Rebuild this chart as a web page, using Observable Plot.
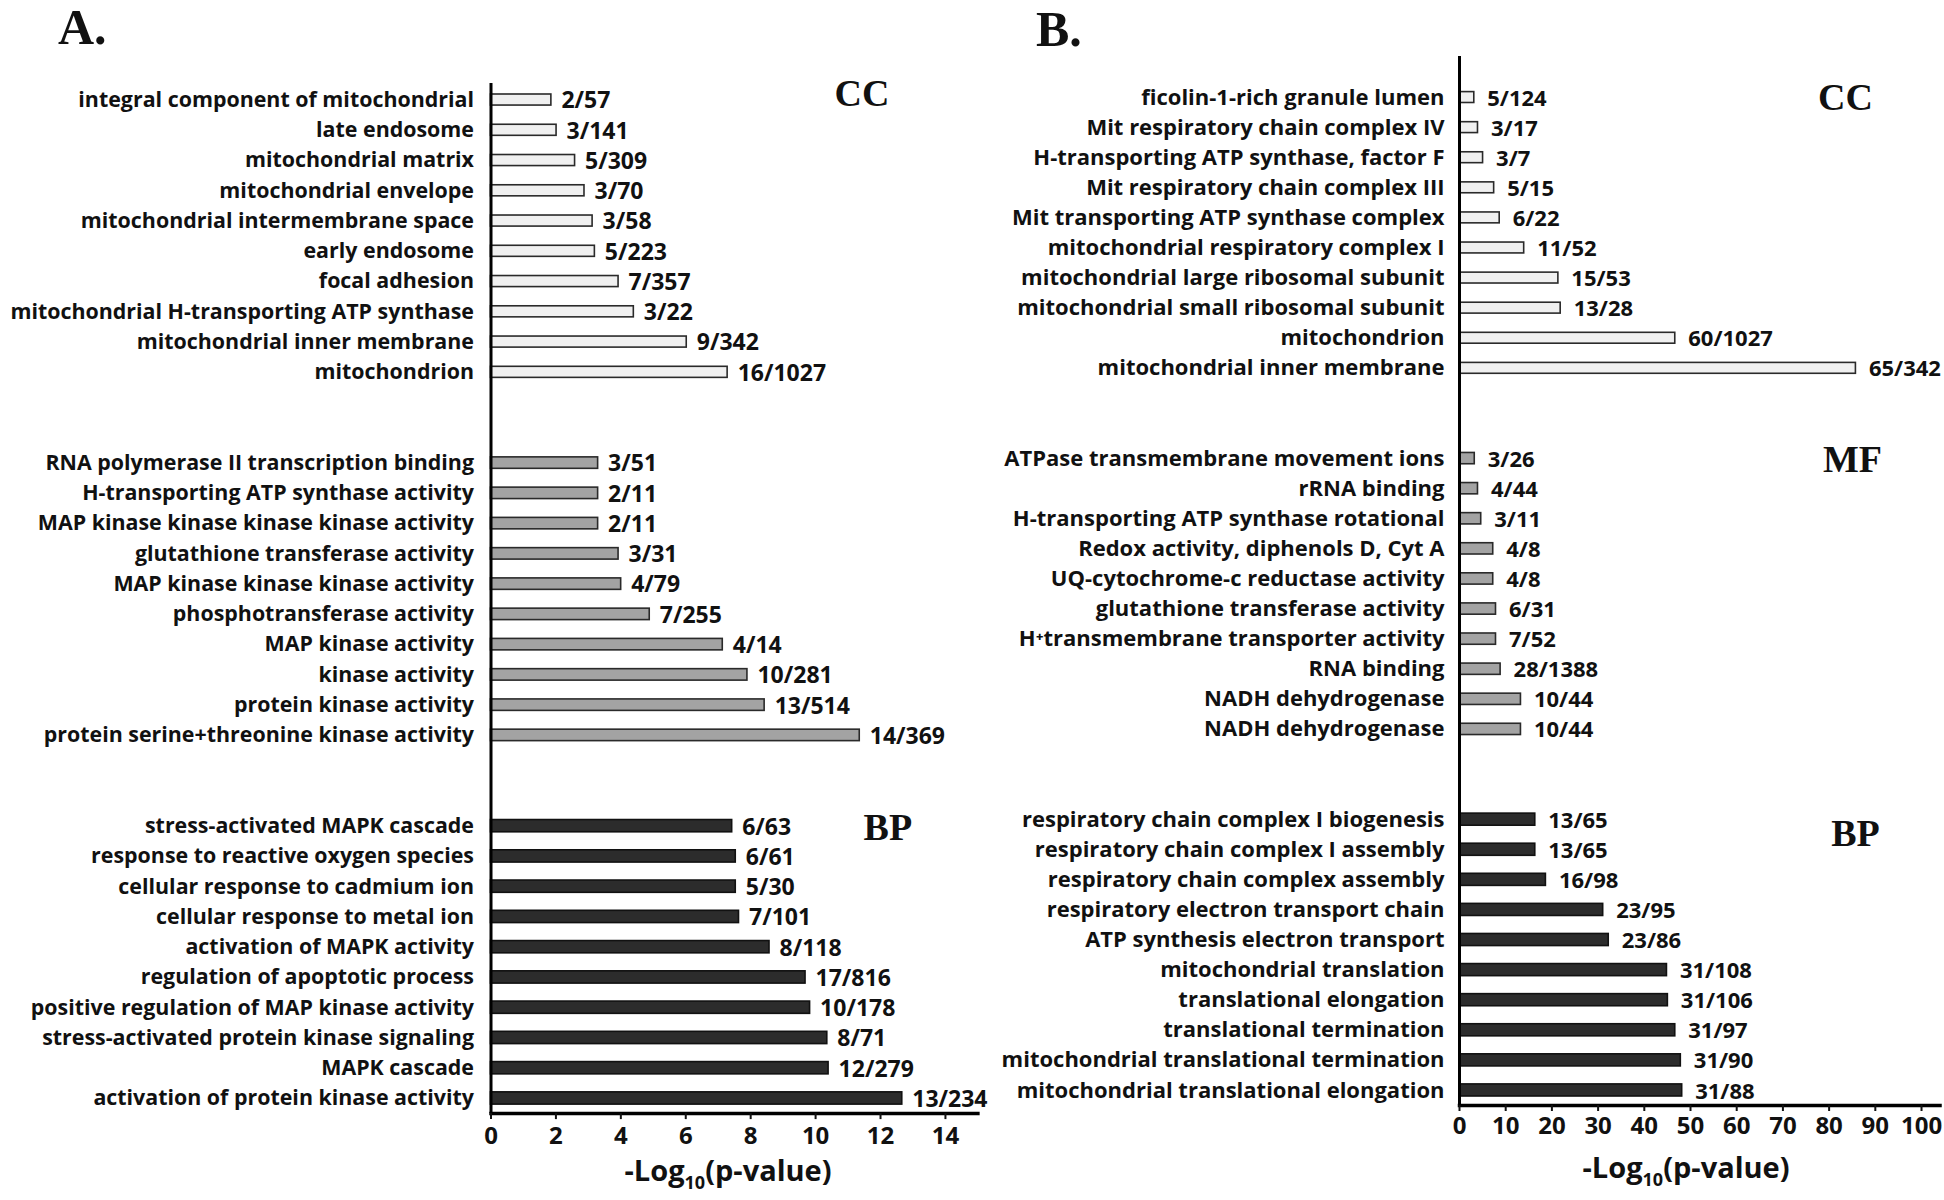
<!DOCTYPE html>
<html>
<head>
<meta charset="utf-8">
<script src="https://cdn.jsdelivr.net/npm/d3@7"></script>
<script src="https://cdn.jsdelivr.net/npm/@observablehq/plot@0.6"></script>
<style>
  body { margin: 0; background: #fff; }
  #root { position: relative; width: 1944px; height: 1200px; overflow: hidden; font-family: "Open Sans", sans-serif; color: #111; }
  .panel { position: absolute; top: 0; }
  .letter { position: absolute; font-family: "Liberation Serif", serif; font-weight: bold; font-size: 50px; line-height: 1; color: #111; }
  .xtitle { position: absolute; font-family: "Open Sans", sans-serif; font-weight: 700; font-size: 29px; line-height: 1.2; transform: translate(-50%, -50%); white-space: nowrap; color: #111; }
  .xtitle sub { font-size: 18px; vertical-align: -8px; line-height: 0; }
</style>
</head>
<body>
<div id="root"></div>
<script>
// ---------------- Panel A data ----------------
const ccA_terms = ["integral component of mitochondrial", "late endosome", "mitochondrial matrix", "mitochondrial envelope", "mitochondrial intermembrane space", "early endosome", "focal adhesion", "mitochondrial H-transporting ATP synthase", "mitochondrial inner membrane", "mitochondrion"];
const ccA_values = [1.86, 2.02, 2.59, 2.88, 3.13, 3.2, 3.93, 4.4, 6.03, 7.29];
const ccA_counts = ["2/57", "3/141", "5/309", "3/70", "3/58", "5/223", "7/357", "3/22", "9/342", "16/1027"];

const mfA_terms = ["RNA polymerase II transcription binding", "H-transporting ATP synthase activity", "MAP kinase kinase kinase kinase activity", "glutathione transferase activity", "MAP kinase kinase kinase activity", "phosphotransferase activity", "MAP kinase activity", "kinase activity", "protein kinase activity", "protein serine+threonine kinase activity"];
const mfA_values = [3.3, 3.3, 3.3, 3.93, 4.01, 4.89, 7.14, 7.9, 8.43, 11.36];
const mfA_counts = ["3/51", "2/11", "2/11", "3/31", "4/79", "7/255", "4/14", "10/281", "13/514", "14/369"];

const bpA_terms = ["stress-activated MAPK cascade", "response to reactive oxygen species", "cellular response to cadmium ion", "cellular response to metal ion", "activation of MAPK activity", "regulation of apoptotic process", "positive regulation of MAP kinase activity", "stress-activated protein kinase signaling", "MAPK cascade", "activation of protein kinase activity"];
const bpA_values = [7.43, 7.54, 7.54, 7.64, 8.58, 9.69, 9.83, 10.36, 10.4, 12.67];
const bpA_counts = ["6/63", "6/61", "5/30", "7/101", "8/118", "17/816", "10/178", "8/71", "12/279", "13/234"];

const xTicksA = [0, 2, 4, 6, 8, 10, 12, 14];

// ---------------- Panel B data ----------------
const ccB_terms = ["ficolin-1-rich granule lumen", "Mit respiratory chain complex IV", "H-transporting ATP synthase, factor F", "Mit respiratory chain complex III", "Mit transporting ATP synthase complex", "mitochondrial respiratory complex I", "mitochondrial large ribosomal subunit", "mitochondrial small ribosomal subunit", "mitochondrion", "mitochondrial inner membrane"];
const ccB_values = [3.2, 4.0, 5.1, 7.5, 8.7, 14.0, 21.4, 21.9, 46.7, 85.8];
const ccB_counts = ["5/124", "3/17", "3/7", "5/15", "6/22", "11/52", "15/53", "13/28", "60/1027", "65/342"];

const mfB_terms = ["ATPase transmembrane movement ions", "rRNA binding", "H-transporting ATP synthase rotational", "Redox activity, diphenols D, Cyt A", "UQ-cytochrome-c reductase activity", "glutathione transferase activity", "H\u207Atransmembrane transporter activity", "RNA binding", "NADH dehydrogenase", "NADH dehydrogenase"];
const mfB_values = [3.3, 4.0, 4.7, 7.3, 7.3, 7.9, 7.9, 8.9, 13.3, 13.3];
const mfB_counts = ["3/26", "4/44", "3/11", "4/8", "4/8", "6/31", "7/52", "28/1388", "10/44", "10/44"];

const bpB_terms = ["respiratory chain complex I biogenesis", "respiratory chain complex I assembly", "respiratory chain complex assembly", "respiratory electron transport chain", "ATP synthesis electron transport", "mitochondrial translation", "translational elongation", "translational termination", "mitochondrial translational termination", "mitochondrial translational elongation"];
const bpB_values = [16.4, 16.4, 18.7, 31.1, 32.3, 44.9, 45.1, 46.7, 47.9, 48.2];
const bpB_counts = ["13/65", "13/65", "16/98", "23/95", "23/86", "31/108", "31/106", "31/97", "31/90", "31/88"];

const xTicksB = [0, 10, 20, 30, 40, 50, 60, 70, 80, 90, 100];

const groupNames = ["CC", "MF", "BP"];

// ---------------- helpers ----------------
const groupStyle = {
  CC: {fill: "#f0f0f0", stroke: "#2a2a2a", inset: 9.6},
  MF: {fill: "#a3a3a3", stroke: "#2a2a2a", inset: 9.4},
  BP: {fill: "#2c2c2c", stroke: "#111111", inset: 9.0}
};

function buildRows(groups) {
  const rows = [];
  groups.forEach((g, gi) => {
    if (gi > 0) {
      rows.push({key: `gap${gi}a`, spacer: true});
      rows.push({key: `gap${gi}b`, spacer: true});
    }
    g.terms.forEach((t, i) => rows.push({key: `${g.name}-${i}`, term: t, value: g.values[i], count: g.counts[i], group: g.name}));
  });
  return rows;
}

function makePanel(cfg) {
  const rows = buildRows(cfg.groups);
  const data = rows.filter(d => !d.spacer);
  const labelOf = new Map(data.map(d => [d.key, d.term]));
  const marks = [];
  for (const g of groupNames) {
    const sub = data.filter(d => d.group === g);
    if (!sub.length) continue;
    const st = groupStyle[g];
    marks.push(Plot.barX(sub, {x: "value", y: "key", fill: st.fill, stroke: st.stroke, strokeWidth: 1.6, insetTop: st.inset, insetBottom: st.inset}));
  }
  marks.push(Plot.text(data, {x: "value", y: "key", text: "count", textAnchor: "start", dx: cfg.valueDx, dy: 1, fontSize: cfg.valueSize, fontWeight: 700, fill: "#111"}));
  for (const gl of cfg.groupLabels) {
    const firstKey = `${gl.name}-0`;
    marks.push(Plot.text([gl.name], {y: () => firstKey, text: d => d, frameAnchor: "right", textAnchor: "middle", dx: gl.dx, dy: gl.dy, fontFamily: "Liberation Serif, serif", fontWeight: "bold", fontSize: 38, fill: "#111"}));
  }
  marks.push(Plot.ruleX([0], {stroke: "#000", strokeWidth: 3, insetTop: cfg.ruleInsetTop}));
  marks.push(Plot.frame({anchor: "bottom", stroke: "#000", strokeWidth: 3.5}));
  marks.push(Plot.axisY({tickSize: 0, tickPadding: cfg.yPad, fontSize: cfg.labelSize, fontWeight: 700, label: null, tickFormat: k => labelOf.get(k) ?? ""}));
  marks.push(Plot.axisX({ticks: cfg.xTicks, tickSize: 6, tickPadding: cfg.xPad, fontSize: 24, fontWeight: 700, strokeWidth: 2, label: null, tickFormat: d => String(d)}));

  const svg = Plot.plot({
    width: cfg.width,
    height: 1200,
    marginLeft: cfg.marginLeft,
    marginRight: cfg.marginRight,
    marginTop: cfg.marginTop,
    marginBottom: cfg.marginBottom,
    style: {fontFamily: "Open Sans, sans-serif", color: "#111", background: "transparent", overflow: "visible"},
    x: {domain: cfg.xDomain},
    y: {domain: rows.map(d => d.key), padding: 0, round: false},
    marks
  });
  const wrap = document.createElement("div");
  wrap.className = "panel";
  wrap.style.left = cfg.left + "px";
  wrap.appendChild(svg);
  return wrap;
}

const root = document.getElementById("root");

root.appendChild(makePanel({
  left: 0, width: 990,
  marginLeft: 490.5, marginRight: 12.6, marginTop: 84.4, marginBottom: 86.9,
  xDomain: [0, 15], xTicks: xTicksA, xPad: 7, yPad: 17, valueDx: 10, valueSize: 23, labelSize: 21.4, ruleInsetTop: -1.4,
  groups: [
    {name: "CC", terms: ccA_terms, values: ccA_values, counts: ccA_counts},
    {name: "MF", terms: mfA_terms, values: mfA_values, counts: mfA_counts},
    {name: "BP", terms: bpA_terms, values: bpA_values, counts: bpA_counts}
  ],
  groupLabels: [{name: "CC", dx: -116, dy: -6}, {name: "BP", dx: -90, dy: 2}]
}));

root.appendChild(makePanel({
  left: 990, width: 954,
  marginLeft: 469, marginRight: 4.5, marginTop: 82, marginBottom: 95,
  xDomain: [0, 104], xTicks: xTicksB, xPad: 5, yPad: 15, valueDx: 13, valueSize: 22, labelSize: 22, ruleInsetTop: -26,
  groups: [
    {name: "CC", terms: ccB_terms, values: ccB_values, counts: ccB_counts},
    {name: "MF", terms: mfB_terms, values: mfB_values, counts: mfB_counts},
    {name: "BP", terms: bpB_terms, values: bpB_values, counts: bpB_counts}
  ],
  groupLabels: [{name: "CC", dx: -94.5, dy: 0}, {name: "MF", dx: -87.5, dy: 1}, {name: "BP", dx: -84.5, dy: 14}]
}));

// panel letters
const la = document.createElement("div");
la.className = "letter"; la.textContent = "A."; la.style.left = "58px"; la.style.top = "2px";
root.appendChild(la);
const lb = document.createElement("div");
lb.className = "letter"; lb.textContent = "B."; lb.style.left = "1036px"; lb.style.top = "4px";
root.appendChild(lb);

// x-axis titles
function xTitle(cx, cy) {
  const t = document.createElement("div");
  t.className = "xtitle";
  t.innerHTML = "-Log<sub>10</sub>(p-value)";
  t.style.left = cx + "px"; t.style.top = cy + "px";
  root.appendChild(t);
}
xTitle(728, 1170);
xTitle(1686, 1167);
</script>
</body>
</html>
